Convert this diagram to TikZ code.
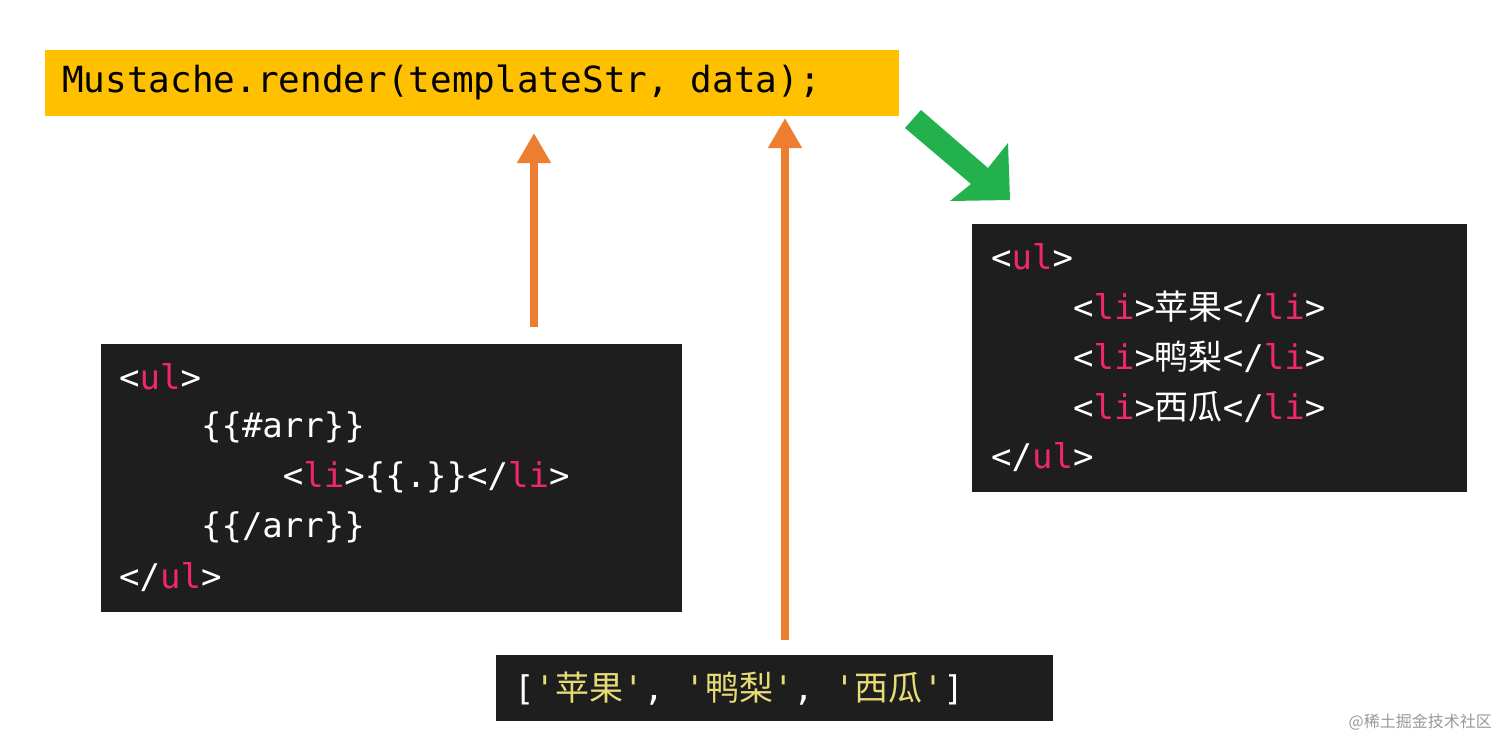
\documentclass[tikz,border=0pt]{standalone}
\usepackage{fontspec}
\setmonofont{DejaVu Sans Mono}
\newfontfamily\cjk{Noto Sans CJK SC}
\usetikzlibrary{arrows.meta}
\definecolor{ybg}{HTML}{FFC000}
\definecolor{dbg}{HTML}{1E1E1E}
\definecolor{pk}{HTML}{F0266F}
\definecolor{org}{HTML}{ED7D31}
\definecolor{grn}{HTML}{22B14C}
\definecolor{strc}{HTML}{E6DB74}
\newcommand{\tg}[1]{\textcolor{pk}{#1}}
\newcommand{\zh}[1]{{\cjk #1}}
\begin{document}
\begin{tikzpicture}[x=1pt,y=-1pt,
  code/.style={anchor=west,inner sep=0pt,text=white,font=\ttfamily\fontsize{34}{40}\selectfont},
  orarrow/.style={draw=org,line width=8pt,-{Triangle[width=32pt,length=30pt]}}]
\useasboundingbox[fill=white] (0,0) rectangle (1512,755);
% yellow box
\fill[ybg] (45,50) rectangle (899,116);
\node (call) [code,text=black,font=\ttfamily\fontsize{36}{40}\selectfont] at (62,82) {Mustache.render(templateStr, data);};
\coordinate (tplin) at (534,133);
\coordinate (datin) at (785,118);
% left box
\fill[dbg] (101,344) rectangle (682,612);
\node (l1) [code] at (119,377) {<\tg{ul}>};
\node (l2) [code] at (119,427) {\ \ \ \ \{\{\#arr\}\}};
\node (l3) [code] at (119,477) {\ \ \ \ \ \ \ \ <\tg{li}>\{\{.\}\}</\tg{li}>};
\node (l4) [code] at (119,527) {\ \ \ \ \{\{/arr\}\}};
\node (l5) [code] at (119,577) {</\tg{ul}>};
\coordinate (tplout) at (534,327);
% right box
\fill[dbg] (972,224) rectangle (1467,492);
\node (r1) [code] at (991,257) {<\tg{ul}>};
\node (r2) [code] at (991,307) {\ \ \ \ <\tg{li}>\zh{苹果}</\tg{li}>};
\node (r3) [code] at (991,357) {\ \ \ \ <\tg{li}>\zh{鸭梨}</\tg{li}>};
\node (r4) [code] at (991,407) {\ \ \ \ <\tg{li}>\zh{西瓜}</\tg{li}>};
\node (r5) [code] at (991,457) {</\tg{ul}>};
% bottom box
\fill[dbg] (496,655) rectangle (1053,721);
\node (arr) [code] at (514,689) {[\textcolor{strc}{'\zh{苹果}'}, \textcolor{strc}{'\zh{鸭梨}'}, \textcolor{strc}{'\zh{西瓜}'}]};
\coordinate (datout) at (785,640);
% arrows
\draw[orarrow] (tplout) -- (tplin);
\draw[orarrow] (datout) -- (datin);
\fill[grn] (905,128) -- (921,110) -- (988,168) -- (1008,143) -- (1010,200) -- (950,201) -- (971,184) -- cycle;
% watermark
\node (wm) [anchor=east,text=gray!80,font=\cjk\fontsize{16}{18}\selectfont,inner sep=0pt] at (1492,722) {@稀土掘金技术社区};
\end{tikzpicture}
\end{document}
